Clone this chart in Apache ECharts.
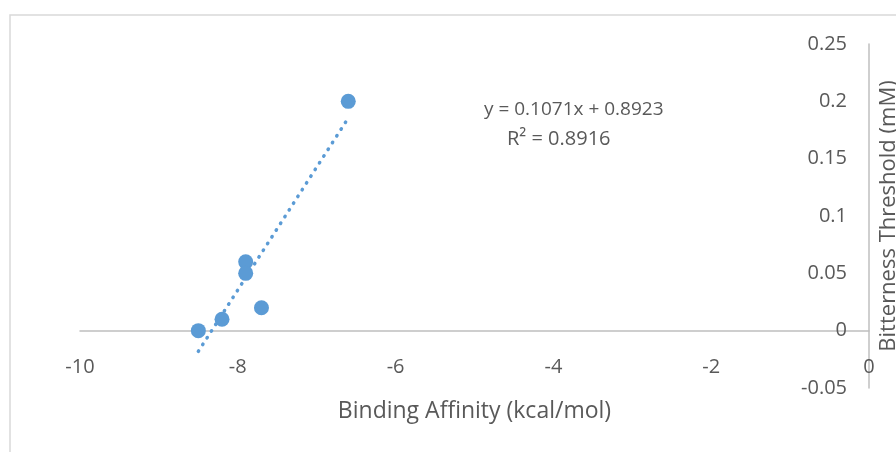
<!DOCTYPE html>
<html>
<head>
<meta charset="utf-8">
<script src="https://cdn.jsdelivr.net/npm/echarts@6/dist/echarts.min.js"></script>
<style>
  html, body { margin: 0; padding: 0; background: #fff; }
  #main { width: 896px; height: 452px; }
</style>
</head>
<body>
<div id="main"></div>
<script>
// binding affinity (kcal/mol) vs bitterness threshold (mM)
const affinity = [-6.6, -7.9, -7.9, -7.7, -8.2, -8.5];
const threshold = [0.2, 0.06, 0.05, 0.02, 0.01, 0];
// linear trendline as printed on the chart
const slope = 0.1071;
const intercept = 0.8923;
const rSquared = 0.8916;
const xTicks = [-10, -8, -6, -4, -2, 0];
const yTicks = [-0.05, 0, 0.05, 0.1, 0.15, 0.2, 0.25];

const FONT = 'Open Sans';
const GREY = '#595959';
const BLUE = '#5B9BD5';

const points = affinity.map((x, i) => [x, threshold[i]]);
const xLo = Math.min(...affinity);
const xHi = Math.max(...affinity);
const trend = [[xLo, slope * xLo + intercept], [xHi, slope * xHi + intercept]];

const chart = echarts.init(document.getElementById('main'), null, { renderer: 'canvas' });

// grid is 344px tall for 0.3 of range; the x axis sits at y = 0, one step above the bottom
const plotH = 344;
const zeroOffset = -plotH * (0 - yTicks[0]) / (yTicks[yTicks.length - 1] - yTicks[0]);

const option = {
  backgroundColor: '#fff',
  animation: false,
  textStyle: { fontFamily: FONT },
  grid: { left: 80, right: 27, top: 44, bottom: 64, outerBoundsMode: 'none', containLabel: false },
  xAxis: {
    type: 'value',
    min: xTicks[0],
    max: xTicks[xTicks.length - 1],
    interval: 2,
    offset: zeroOffset,
    splitLine: { show: false },
    axisTick: { show: false },
    axisLine: { onZero: false, lineStyle: { color: '#BFBFBF', width: 1.5 } },
    axisLabel: { color: GREY, fontSize: 20, fontFamily: FONT, margin: 27 },
    name: 'Binding Affinity (kcal/mol)',
    nameLocation: 'middle',
    nameGap: 69,
    nameTextStyle: { color: GREY, fontSize: 23, fontFamily: FONT }
  },
  yAxis: {
    type: 'value',
    position: 'right',
    min: yTicks[0],
    max: yTicks[yTicks.length - 1],
    interval: 0.05,
    splitLine: { show: false },
    axisTick: { show: false },
    axisLine: { onZero: false, lineStyle: { color: '#BFBFBF', width: 1.5 } },
    axisLabel: {
      inside: true,
      color: GREY,
      fontSize: 20,
      fontFamily: FONT,
      margin: 22,
      formatter: v => String(+v.toFixed(2))
    },
    name: 'Bitterness Threshold (mM)',
    nameLocation: 'middle',
    nameGap: 4,
    nameRotate: 90,
    nameTextStyle: { color: GREY, fontSize: 22, fontFamily: FONT, verticalAlign: 'top' }
  },
  graphic: [
    {
      type: 'polyline',
      shape: { points: [[10, 452], [10, 15], [896, 15]] },
      style: { stroke: '#D9D9D9', lineWidth: 1.5, fill: null },
      silent: true
    },
    {
      type: 'text',
      left: 484,
      top: 100,
      style: { text: 'y = ' + slope + 'x + ' + intercept, fill: GREY, font: '19px "' + FONT + '"' }
    },
    {
      type: 'text',
      left: 507,
      top: 129,
      style: { text: 'R² = ' + rSquared, fill: GREY, font: '20px "' + FONT + '"' }
    }
  ],
  series: [
    {
      type: 'line',
      data: trend,
      symbol: 'none',
      lineStyle: { color: BLUE, width: 3.5, type: [0.5, 7.5], cap: 'round' },
      z: 2
    },
    {
      type: 'scatter',
      data: points,
      symbol: 'circle',
      symbolSize: 15,
      itemStyle: { color: BLUE, opacity: 1 },
      z: 3
    }
  ]
};

chart.setOption(option);
</script>
</body>
</html>
